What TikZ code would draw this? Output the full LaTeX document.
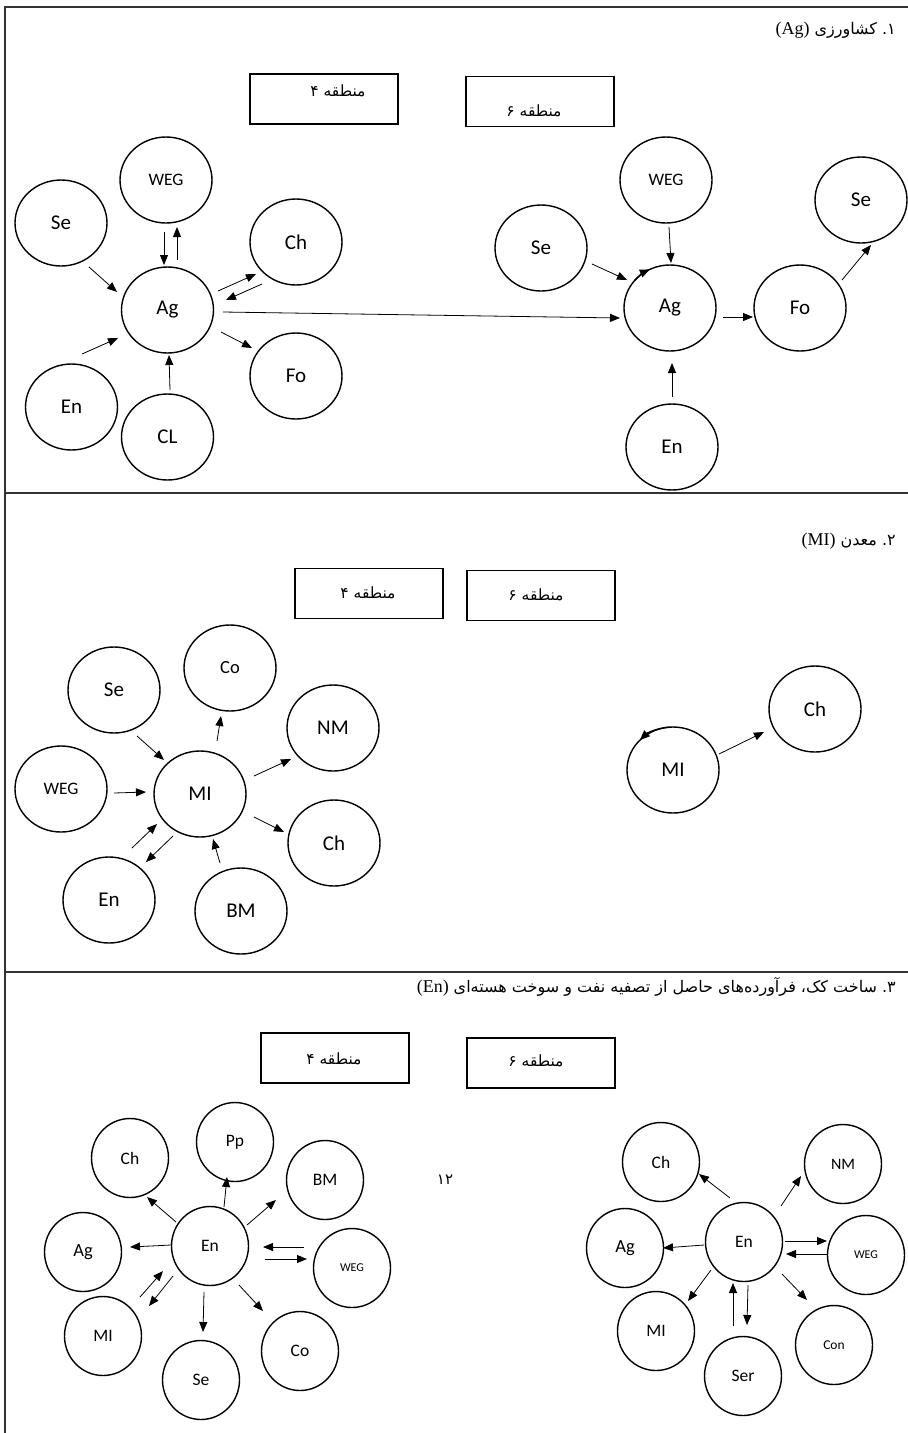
\documentclass[tikz,border=0pt]{standalone}
\usepackage{fontspec}
\setmainfont{Carlito}
\newfontfamily\arabicfont[Script=Arabic]{DejaVu Sans}
\newfontfamily\latinserif{Liberation Serif}
\TeXXeTstate=1
\usetikzlibrary{shapes.geometric,arrows.meta,calc}
\begin{document}
\begin{tikzpicture}[x=1pt,y=-1pt,
  bub/.style={draw, ellipse, line width=1.4pt, minimum width=92pt, minimum height=86pt, inner sep=0pt, font=\fontsize{21}{23}\selectfont},
  sbub/.style={bub, minimum width=77pt, minimum height=79pt, font=\fontsize{17.5}{19}\selectfont},
  arr/.style={-{Triangle[length=10pt,width=8pt]}, line width=0.8pt},
  loop/.style={arr, line width=1.4pt},
  zone/.style={draw, line width=1.3pt, minimum width=148pt, minimum height=50pt, inner sep=0pt},
  ztext/.style={font=\arabicfont\fontsize{15.5}{17}\selectfont, inner sep=0pt},
  title/.style={anchor=east, inner sep=0pt},
  frame/.style={line width=1.2pt, draw=black!80}
]
\useasboundingbox (0,0) rectangle (908,1433);
\draw[frame] (5,1433) -- (5,7) -- (908,7);
\draw[frame] (5,493) -- (908,493);
\draw[frame] (5,972) -- (908,972);

% ---------- titles ----------
\node[title] (t1) at (896,30) {{\latinserif\fontsize{18}{20}\selectfont (Ag)}\hspace{5pt}{\arabicfont\fontsize{16}{18}\selectfont\beginR ۱\kern0pt.\ کشاورزی\endR}};
\node[title] (t2) at (896,541) {{\latinserif\fontsize{18}{20}\selectfont (MI)}\hspace{5pt}{\arabicfont\fontsize{16}{18}\selectfont\beginR ۲\kern0pt.\ معدن\endR}};
\node[title] (t3) at (896,987) {{\latinserif\fontsize{18}{20}\selectfont (En)}\hspace{5pt}{\arabicfont\fontsize{16}{18}\selectfont\beginR ۳\kern0pt.\ ساخت کک، فرآورده‌های حاصل از تصفیه نفت و سوخت هسته‌ای\endR}};

% ---------- zone boxes ----------
\node[zone] (z14) at (324,99) {};
\node[ztext] (z14t) at ($(z14)+(14,-8)$) {\beginR منطقه ۴\endR};
\node[zone] (z16) at (540,101.5) {};
\node[ztext] (z16t) at ($(z16)+(-6,9)$) {\beginR منطقه ۶\endR};
\node[zone] (z24) at (369,593.5) {};
\node[ztext] (z24t) at ($(z24)+(-1,-1)$) {\beginR منطقه ۴\endR};
\node[zone] (z26) at (541,595.5) {};
\node[ztext] (z26t) at ($(z26)+(-5,-1)$) {\beginR منطقه ۶\endR};
\node[zone] (z34) at (335,1058) {};
\node[ztext] (z34t) at ($(z34)+(-1,1)$) {\beginR منطقه ۴\endR};
\node[zone] (z36) at (541,1063) {};
\node[ztext] (z36t) at ($(z36)+(-5,-2)$) {\beginR منطقه ۶\endR};

% ---------- section 1, zone 4 ----------
\node[bub, font=\fontsize{17.5}{19}\selectfont] (aWEG) at (166,180) {WEG};
\node[bub] (aSe) at (61,223) {Se};
\node[bub] (aCh) at (296,242) {Ch};
\node[bub] (aAg) at (167.5,310) {Ag};
\node[bub] (aFo) at (296,376) {Fo};
\node[bub] (aEn) at (71.5,407) {En};
\node[bub] (aCL) at (167.5,437) {CL};

% ---------- section 1, zone 6 ----------
\node[bub, font=\fontsize{17.5}{19}\selectfont] (bWEG) at (666,180) {WEG};
\node[bub] (bSe) at (541,248) {Se};
\node[bub] (bAg) at (670,308) {Ag};
\node[bub] (bFo) at (800,308) {Fo};
\node[bub] (bSe2) at (861,200) {Se};
\node[bub] (bEn) at (672,447) {En};

\draw[arr] ($(aWEG)+(-2,52)$) -- ($(aAg)+(-3.5,-45)$);
\draw[arr] ($(aAg)+(9.5,-50)$) -- ($(aWEG)+(11,47)$);
\draw[arr] ($(aSe)+(28,44)$) -- ($(aAg)+(-50.5,-18)$);
\draw[arr] ($(aAg)+(50.5,-19)$) -- ($(aCh)+(-40,32)$);
\draw[arr] ($(aCh)+(-34,42)$) -- ($(aAg)+(58.5,-10)$);
\draw[arr] ($(aAg)+(55.5,2)$) -- ($(bAg)+(-50,10)$);
\draw[arr] ($(aAg)+(53.5,22)$) -- ($(aFo)+(-44,-28)$);
\draw[arr] ($(aEn)+(10.5,-53)$) -- ($(aAg)+(-49.5,28)$);
\draw[arr] ($(aCL)+(2.5,-47)$) -- ($(aAg)+(1.5,45)$);

\draw[arr] ($(bWEG)+(3,47)$) -- ($(bAg)+(1,-45)$);
\draw[arr] ($(bSe)+(51,16)$) -- ($(bAg)+(-43,-28)$);
\draw[arr] ($(bAg)+(53,9)$) -- ($(bFo)+(-47,9)$);
\draw[arr] ($(bFo)+(42,-28)$) -- ($(bSe2)+(10,45)$);
\draw[arr] ($(bEn)+(0,-50)$) -- ($(bAg)+(2,55)$);
\draw[loop] ($(bAg)+(-140:46 and 43)$) arc[start angle=-140, end angle=-116, x radius=46, y radius=43];

% ---------- section 2, zone 4 ----------
\node[bub] (cSe) at (114,690) {Se};
\node[bub, font=\fontsize{18.5}{20}\selectfont] (cCo) at (230,668) {Co};
\node[bub] (cNM) at (333,728) {NM};
\node[bub, font=\fontsize{17.5}{19}\selectfont] (cWEG) at (61,789) {WEG};
\node[bub] (cMI) at (200,794) {MI};
\node[bub] (cCh) at (334,843) {Ch};
\node[bub] (cEn) at (109,900) {En};
\node[bub] (cBM) at (241,911) {BM};

\draw[arr] ($(cSe)+(23,46)$) -- ($(cMI)+(-36,-34)$);
\draw[arr] ($(cMI)+(17,-53)$) -- ($(cCo)+(-9,48)$);
\draw[arr] ($(cMI)+(54,-18)$) -- ($(cNM)+(-42,31)$);
\draw[arr] ($(cWEG)+(53,4)$) -- ($(cMI)+(-54,-2)$);
\draw[arr] ($(cMI)+(54,23)$) -- ($(cCh)+(-50,-11)$);
\draw[arr] ($(cEn)+(23,-52)$) -- ($(cMI)+(-43,30)$);
\draw[arr] ($(cMI)+(-27,42)$) -- ($(cEn)+(37,-38)$);
\draw[arr] ($(cBM)+(-21,-48)$) -- ($(cMI)+(13,45)$);

% ---------- section 2, zone 6 ----------
\node[bub] (dMI) at (673,770) {MI};
\node[bub] (dCh) at (815,709) {Ch};
\draw[arr] ($(dMI)+(46,-16)$) -- ($(dCh)+(-51,23)$);
\draw[loop] ($(dMI)+(-95:46 and 43)$) arc[start angle=-95, end angle=-136, x radius=46, y radius=43];

% ---------- section 3, zone 4 ----------
\node[sbub] (eCh) at (130,1158) {Ch};
\node[sbub] (ePp) at (235,1142) {Pp};
\node[sbub] (eBM) at (325,1180) {BM};
\node[sbub, font=\fontsize{18.5}{20}\selectfont] (eAg) at (83,1252) {Ag};
\node[sbub] (eEn) at (210,1246) {En};
\node[sbub, font=\fontsize{12}{14}\selectfont] (eWEG) at (352,1268) {WEG};
\node[sbub] (eMI) at (103,1336) {MI};
\node[sbub] (eCo) at (300,1351) {Co};
\node[sbub] (eSe) at (201,1380) {Se};
\node[font=\arabicfont\fontsize{15}{17}\selectfont, inner sep=0pt] (pg) at (445,1180) {\beginR ۱۲\endR};

\draw[arr] ($(eEn)+(-34,-24)$) -- ($(eCh)+(17,39)$);
\draw[arr] ($(eEn)+(14,-39)$) -- ($(ePp)+(-8,35)$);
\draw[arr] ($(eEn)+(37,-21)$) -- ($(eBM)+(-49,20)$);
\draw[arr] ($(eEn)+(-39,-1)$) -- ($(eAg)+(47,-5)$);
\draw[arr] ($(eWEG)+(-48,-21)$) -- ($(eEn)+(53,1)$);
\draw[arr] ($(eEn)+(55,13)$) -- ($(eWEG)+(-45,-9)$);
\draw[arr] ($(eMI)+(37,-39)$) -- ($(eEn)+(-47,25)$);
\draw[arr] ($(eEn)+(-37,30)$) -- ($(eMI)+(46,-30)$);
\draw[arr] ($(eEn)+(-6,46)$) -- ($(eSe)+(2,-48)$);
\draw[arr] ($(eEn)+(29,39)$) -- ($(eCo)+(-37,-40)$);

% ---------- section 3, zone 6 ----------
\node[sbub] (fCh) at (661,1162) {Ch};
\node[sbub, font=\fontsize{16}{18}\selectfont] (fNM) at (843,1164) {NM};
\node[sbub, font=\fontsize{18.5}{20}\selectfont] (fAg) at (625,1248) {Ag};
\node[sbub] (fEn) at (744,1242) {En};
\node[sbub, font=\fontsize{12}{14}\selectfont] (fWEG) at (866,1255) {WEG};
\node[sbub] (fMI) at (656,1331) {MI};
\node[sbub, font=\fontsize{13.5}{15}\selectfont] (fCon) at (834,1345) {Con};
\node[sbub] (fSer) at (743,1376) {Ser};

\draw[arr] ($(fEn)+(-14,-44)$) -- ($(fCh)+(38,12)$);
\draw[arr] ($(fEn)+(37,-36)$) -- ($(fNM)+(-42,12)$);
\draw[arr] ($(fEn)+(-40,3)$) -- ($(fAg)+(38,0)$);
\draw[arr] ($(fEn)+(41,-1)$) -- ($(fWEG)+(-39,-14)$);
\draw[arr] ($(fWEG)+(-39,-1)$) -- ($(fEn)+(42,12)$);
\draw[arr] ($(fEn)+(-33,28)$) -- ($(fMI)+(32,-30)$);
\draw[arr] ($(fSer)+(-10,-50)$) -- ($(fEn)+(-11,41)$);
\draw[arr] ($(fEn)+(4,43)$) -- ($(fSer)+(4,-51)$);
\draw[arr] ($(fEn)+(38,32)$) -- ($(fCon)+(-27,-45)$);
\end{tikzpicture}
\end{document}
